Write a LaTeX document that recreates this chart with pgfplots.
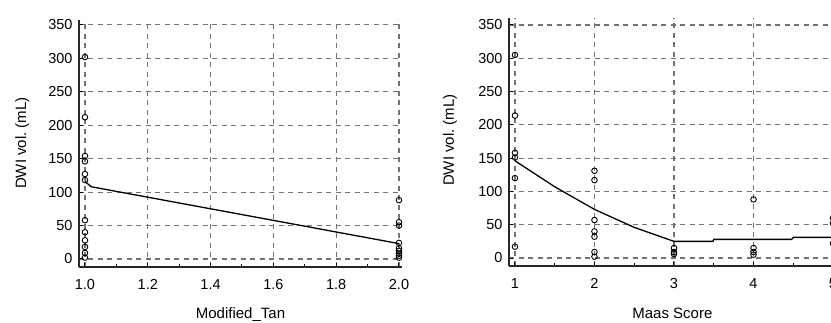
\documentclass[border=0pt]{standalone}
\usepackage{pgfplots}
\pgfplotsset{compat=1.18}
\usepackage{fontspec}
\setmainfont{Liberation Sans}
\begin{document}
\begin{tikzpicture}
\path[use as bounding box] (0pt,0pt) rectangle (831pt,323pt);
\pgfplotsset{
 mystyle/.style={
  scale only axis, anchor=south west,
  axis x line=bottom, axis y line=left,
  axis line style={-, line width=1.8pt, black!85},
  ymin=-12, ytick={0,50,100,150,200,250,300,350},
  grid=major,
  major grid style={dash pattern=on 5pt off 4.5pt, black!55, line width=1.1pt},
  tick align=inside, major tick length=4pt, minor tick length=3pt,
  tick style={black, line width=1pt},
  ticklabel style={font=\fontsize{14.5}{14.5}\selectfont},
  xticklabel style={yshift=-9pt},
  yticklabel style={xshift=-3pt},
  /pgf/number format/assume math mode=true,
  every axis x label/.style={at={(axis description cs:0.5,-0.192)}, anchor=center, font=\fontsize{15}{15}\selectfont},
  every axis y label/.style={rotate=90, anchor=center, font=\fontsize{15}{15}\selectfont},
 }}
% Left panel
\begin{axis}[mystyle, at={(79pt,56pt)}, width=323pt, height=247pt,
  xmin=0.981, xmax=2.0096, ymax=357.4,
  xtick={1,1.2,1.4,1.6,1.8,2}, minor x tick num=1,
  xticklabel style={/pgf/number format/.cd, fixed, fixed zerofill, precision=1},
  xlabel={Modified\_Tan}, ylabel={DWI vol.\ (mL)},
  ylabel style={at={(axis description cs:-0.176,0.502)}}]
\addplot[only marks, mark=o, mark size=2.8pt, mark options={line width=0.9pt}, black] coordinates {
 (1,302) (1,212) (1,154) (1,146) (1,127) (1,118) (1,58) (1,40) (1,28) (1,18) (1,9) (1,2)
 (2,88) (2,55) (2,50) (2,24) (2,16) (2,12) (2,8) (2,5) (2,2)};
\addplot[black, line width=1.3pt] coordinates {(1,116) (1.02,108) (2,23)};
\end{axis}
% Right panel
\begin{axis}[mystyle, at={(509pt,57pt)}, width=328pt, height=248pt,
  xmin=0.925, xmax=5.05, ymax=360.5,
  xtick={1,2,3,4,5}, minor x tick num=1,
  xlabel={Maas Score}, ylabel={DWI vol.\ (mL)},
  xlabel style={at={(axis description cs:0.498,-0.19)}},
  ylabel style={at={(axis description cs:-0.18,0.508)}}]
\addplot[only marks, mark=o, mark size=2.8pt, mark options={line width=0.9pt}, black] coordinates {
 (1,305) (1,214) (1,158) (1,151) (1,120) (1,17)
 (2,131) (2,117) (2,57) (2,40) (2,32) (2,9) (2,2)
 (3,15) (3,9) (3,6)
 (4,88) (4,15) (4,9) (4,5)
 (5,60) (5,52) (5,22)};
\addplot[black, line width=1.3pt] coordinates {(1,146) (1.5,107) (2,73) (2.5,46) (3,25) (3.49,25) (3.5,28) (4.48,28) (4.5,31) (5.05,31)};
\end{axis}
\end{tikzpicture}
\end{document}
